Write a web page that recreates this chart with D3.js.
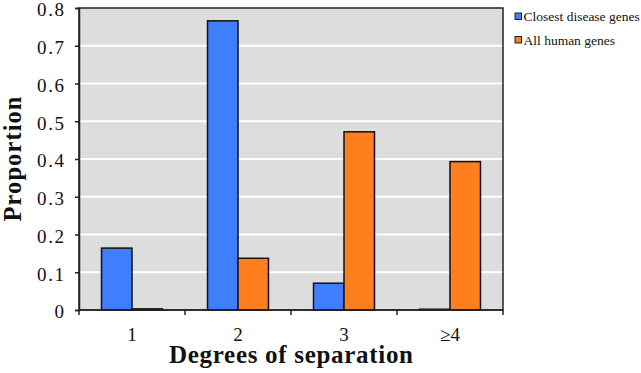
<!DOCTYPE html>
<html>
<head>
<meta charset="utf-8">
<script src="https://cdn.jsdelivr.net/npm/d3@7"></script>
<style>
  body { margin: 0; background: #fff; }
</style>
</head>
<body>
<div id="chart"></div>
<script>
// data
var categories = ["1", "2", "3", "\u22654"];
var seriesNames = ["Closest disease genes", "All human genes"];
var closestDisease = [0.164, 0.766, 0.071, 0.002];
var allHuman = [0.003, 0.137, 0.472, 0.393];
var yTicks = [0, 0.1, 0.2, 0.3, 0.4, 0.5, 0.6, 0.7, 0.8];
var colors = ["#3F7FFF", "#FF7F1F"];

var serif = "'Liberation Serif', 'Times New Roman', Times, serif";

var W = 641, H = 373;
var margin = { top: 8, right: 138, bottom: 63, left: 79 },
    width = W - margin.left - margin.right,
    height = H - margin.top - margin.bottom;

var svg = d3.select("#chart").append("svg")
  .attr("width", W)
  .attr("height", H)
  .style("font-family", serif);

var g = svg.append("g")
  .attr("transform", "translate(" + [margin.left, margin.top] + ")");

var x = d3.scaleBand()
  .domain(categories)
  .range([0, width])
  .paddingInner(0.425)
  .paddingOuter(0.2125);

var xs = d3.scaleBand()
  .domain([0, 1])
  .range([0, x.bandwidth()]);

var y = d3.scaleLinear()
  .domain([0, 0.8])
  .range([height, 0]);

// plot background
g.append("rect")
  .attr("width", width)
  .attr("height", height)
  .attr("fill", "#DDDDDD");

// grid lines
g.selectAll("line.grid")
  .data(yTicks.slice(1, -1))
  .enter().append("line")
  .attr("class", "grid")
  .attr("x1", 0).attr("x2", width)
  .attr("y1", function(d) { return y(d); })
  .attr("y2", function(d) { return y(d); })
  .attr("stroke", "#fff")
  .attr("stroke-width", 2);

var series = [closestDisease, allHuman];

series.forEach(function(vals, si) {
  g.append("g").selectAll("rect")
    .data(vals)
    .enter().append("rect")
    .attr("x", function(d, i) { return x(categories[i]) + xs(si); })
    .attr("y", function(d) { return y(d); })
    .attr("width", xs.bandwidth())
    .attr("height", function(d) { return height - y(d); })
    .attr("fill", colors[si])
    .attr("stroke", "#111")
    .attr("stroke-width", 1.5);
});

// frame
g.append("rect")
  .attr("width", width)
  .attr("height", height)
  .attr("fill", "none")
  .attr("stroke", "#222")
  .attr("stroke-width", 1.5);

// y axis
var yAxis = g.append("g")
  .call(d3.axisLeft(y).tickValues(yTicks).tickSize(4).tickPadding(11)
    .tickFormat(function(d) { return d === 0 ? "0" : d3.format(".1f")(d); }));
yAxis.attr("font-family", null).attr("font-size", null);
yAxis.select(".domain").attr("stroke", "#222").attr("stroke-width", 1.5);
yAxis.selectAll(".tick line").attr("stroke", "#222").attr("stroke-width", 1.5);
yAxis.selectAll("text")
  .attr("dy", "0.42em")
  .style("font-size", "19px")
  .style("font-family", serif)
  .attr("fill", "#111")
  // the source labels are set a little wider than plain Times
  .attr("textLength", function(d) { return d === 0 ? null : 27; })
  .attr("lengthAdjust", "spacing");

// x axis: ticks at category boundaries, labels at band centres
var boundaries = d3.range(categories.length + 1).map(function(i) { return i * x.step(); });
var xAx = g.append("g").attr("transform", "translate(0," + height + ")");
xAx.append("line")
  .attr("x1", 0).attr("x2", width)
  .attr("stroke", "#222").attr("stroke-width", 1.5);
xAx.selectAll("line.tk")
  .data(boundaries)
  .enter().append("line")
  .attr("class", "tk")
  .attr("x1", function(d) { return d; })
  .attr("x2", function(d) { return d; })
  .attr("y1", 0).attr("y2", 5)
  .attr("stroke", "#222").attr("stroke-width", 1.5);
xAx.selectAll("text")
  .data(categories)
  .enter().append("text")
  .attr("x", function(d) { return x(d) + x.bandwidth() / 2; })
  .attr("y", 31)
  .attr("text-anchor", "middle")
  .style("font-size", "19px")
  .style("font-family", serif)
  .attr("fill", "#111")
  .text(function(d) { return d; });

// axis titles
svg.append("text")
  .attr("x", margin.left + width / 2)
  .attr("y", 363)
  .attr("text-anchor", "middle")
  .style("font-size", "25px")
  .style("font-family", serif)
  .attr("font-weight", "bold")
  .attr("fill", "#111")
  .attr("textLength", 244)
  .attr("lengthAdjust", "spacing")
  .text("Degrees of separation");

svg.append("text")
  .attr("transform", "translate(21," + (margin.top + height / 2) + ") rotate(-90)")
  .attr("text-anchor", "middle")
  .style("font-size", "24.5px")
  .style("font-family", serif)
  .attr("font-weight", "bold")
  .attr("fill", "#111")
  .attr("textLength", 125)
  .attr("lengthAdjust", "spacing")
  .text("Proportion");

// legend
var legend = svg.append("g")
  .attr("transform", "translate(515,13)");
seriesNames.forEach(function(name, i) {
  var row = legend.append("g").attr("transform", "translate(0," + i * 23.5 + ")");
  row.append("rect")
    .attr("width", 6.5).attr("height", 6.5)
    .attr("fill", colors[i])
    .attr("stroke", "#222").attr("stroke-width", 1);
  row.append("text")
    .attr("x", 8.5).attr("y", 8)
    .style("font-size", "13.5px")
    .style("font-family", serif)
    .attr("fill", "#111")
    .text(name);
});
</script>
</body>
</html>
